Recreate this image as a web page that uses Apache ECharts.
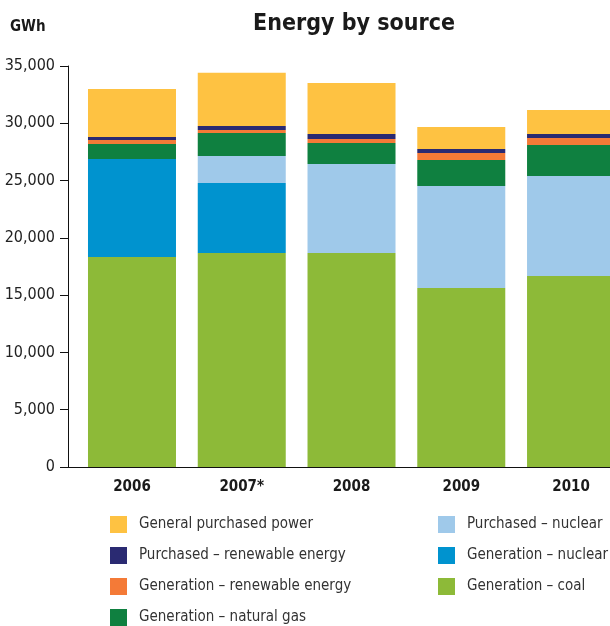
<!DOCTYPE html>
<html>
<head>
<meta charset="utf-8">
<title>Energy by source</title>
<script src="https://cdn.jsdelivr.net/npm/echarts@6/dist/echarts.min.js"></script>
<style>
  html, body { margin: 0; padding: 0; background: #ffffff; }
  #chart { width: 610px; height: 626px; }
</style>
</head>
<body>
<div id="chart"></div>
<script>
// Annual energy supply, GWh, stacked by source
const years = ['2006', '2007*', '2008', '2009', '2010'];
const coal        = [18330, 18680, 18680, 15620, 16670];
const genNuclear  = [8550, 6110, 0, 0, 0];
const purNuclear  = [0, 2360, 7770, 8910, 8730];
const naturalGas  = [1310, 2010, 1830, 2270, 2700];
const genRenew    = [350, 260, 350, 610, 610];
const purRenew    = [260, 350, 430, 350, 350];
const generalPurchased = [4190, 4630, 4460, 1920, 2100];
const yTicks = [0, 5000, 10000, 15000, 20000, 25000, 30000, 35000];

const FONT = "'Liberation Sans Narrow', 'DejaVu Sans Condensed', 'Roboto', sans-serif";

// bottom-to-top stacking order
const layers = [
  { name: 'Generation \u2013 coal', data: coal, color: '#8DBA38' },
  { name: 'Generation \u2013 nuclear', data: genNuclear, color: '#0093CF' },
  { name: 'Purchased \u2013 nuclear', data: purNuclear, color: '#9FC9EA' },
  { name: 'Generation \u2013 natural gas', data: naturalGas, color: '#0F8040' },
  { name: 'Generation \u2013 renewable energy', data: genRenew, color: '#F47A37' },
  { name: 'Purchased \u2013 renewable energy', data: purRenew, color: '#2A2A72' },
  { name: 'General purchased power', data: generalPurchased, color: '#FEC242' }
];

const legendText = {
  fontFamily: FONT, fontSize: 15, color: '#333333', padding: [0, 0, 0, 7]
};
const legendBase = {
  orient: 'vertical', top: 516, height: 130, padding: 0,
  itemWidth: 17, itemHeight: 17, itemGap: 14, icon: 'rect',
  selectedMode: false, textStyle: legendText
};

const chart = echarts.init(document.getElementById('chart'), null, { renderer: 'canvas' });
chart.setOption({
  animation: false,
  backgroundColor: '#ffffff',
  title: [
    {
      text: 'Energy by source',
      left: 349, top: 8, textAlign: 'center',
      textStyle: { fontFamily: FONT, fontSize: 23, fontWeight: 'bold', color: '#1a1a1a' }
    },
    {
      text: 'GWh',
      left: 5, top: 15,
      textStyle: { fontFamily: FONT, fontSize: 15, fontWeight: 'bold', color: '#1a1a1a' }
    }
  ],
  legend: [
    Object.assign({}, legendBase, {
      left: 110,
      data: ['General purchased power', 'Purchased \u2013 renewable energy',
             'Generation \u2013 renewable energy', 'Generation \u2013 natural gas']
    }),
    Object.assign({}, legendBase, {
      left: 438,
      data: ['Purchased \u2013 nuclear', 'Generation \u2013 nuclear', 'Generation \u2013 coal']
    })
  ],
  grid: { left: 68, right: 0, top: 66, bottom: 159, containLabel: false },
  xAxis: {
    type: 'value',
    min: -0.583, max: 4.355,
    splitLine: { show: false },
    axisLine: { show: true, lineStyle: { color: '#111111', width: 1 } },
    axisTick: { show: false },
    axisLabel: {
      customValues: [0, 1, 2, 3, 4],
      formatter: v => years[Math.round(v)],
      margin: 13,
      fontFamily: FONT, fontSize: 15, fontWeight: 'bold', color: '#1a1a1a'
    }
  },
  yAxis: {
    type: 'value',
    min: 0, max: 35000, interval: 5000,
    splitLine: { show: false },
    axisLine: { show: true, onZero: false, lineStyle: { color: '#111111', width: 1 } },
    axisTick: { show: true, inside: false, length: 8, lineStyle: { color: '#111111' } },
    axisLabel: {
      margin: 13,
      fontFamily: FONT, fontSize: 16, color: '#222222',
      formatter: v => yTicks.includes(v) ? v.toLocaleString('en-US') : ''
    }
  },
  series: layers.map(l => ({
    type: 'bar',
    name: l.name,
    stack: 'energy',
    barWidth: 88,
    itemStyle: { color: l.color },
    // value first so the stack accumulates along y; x holds the year position
    encode: { x: 1, y: 0 },
    data: l.data.map((v, i) => [v, i])
  }))
});
</script>
</body>
</html>
